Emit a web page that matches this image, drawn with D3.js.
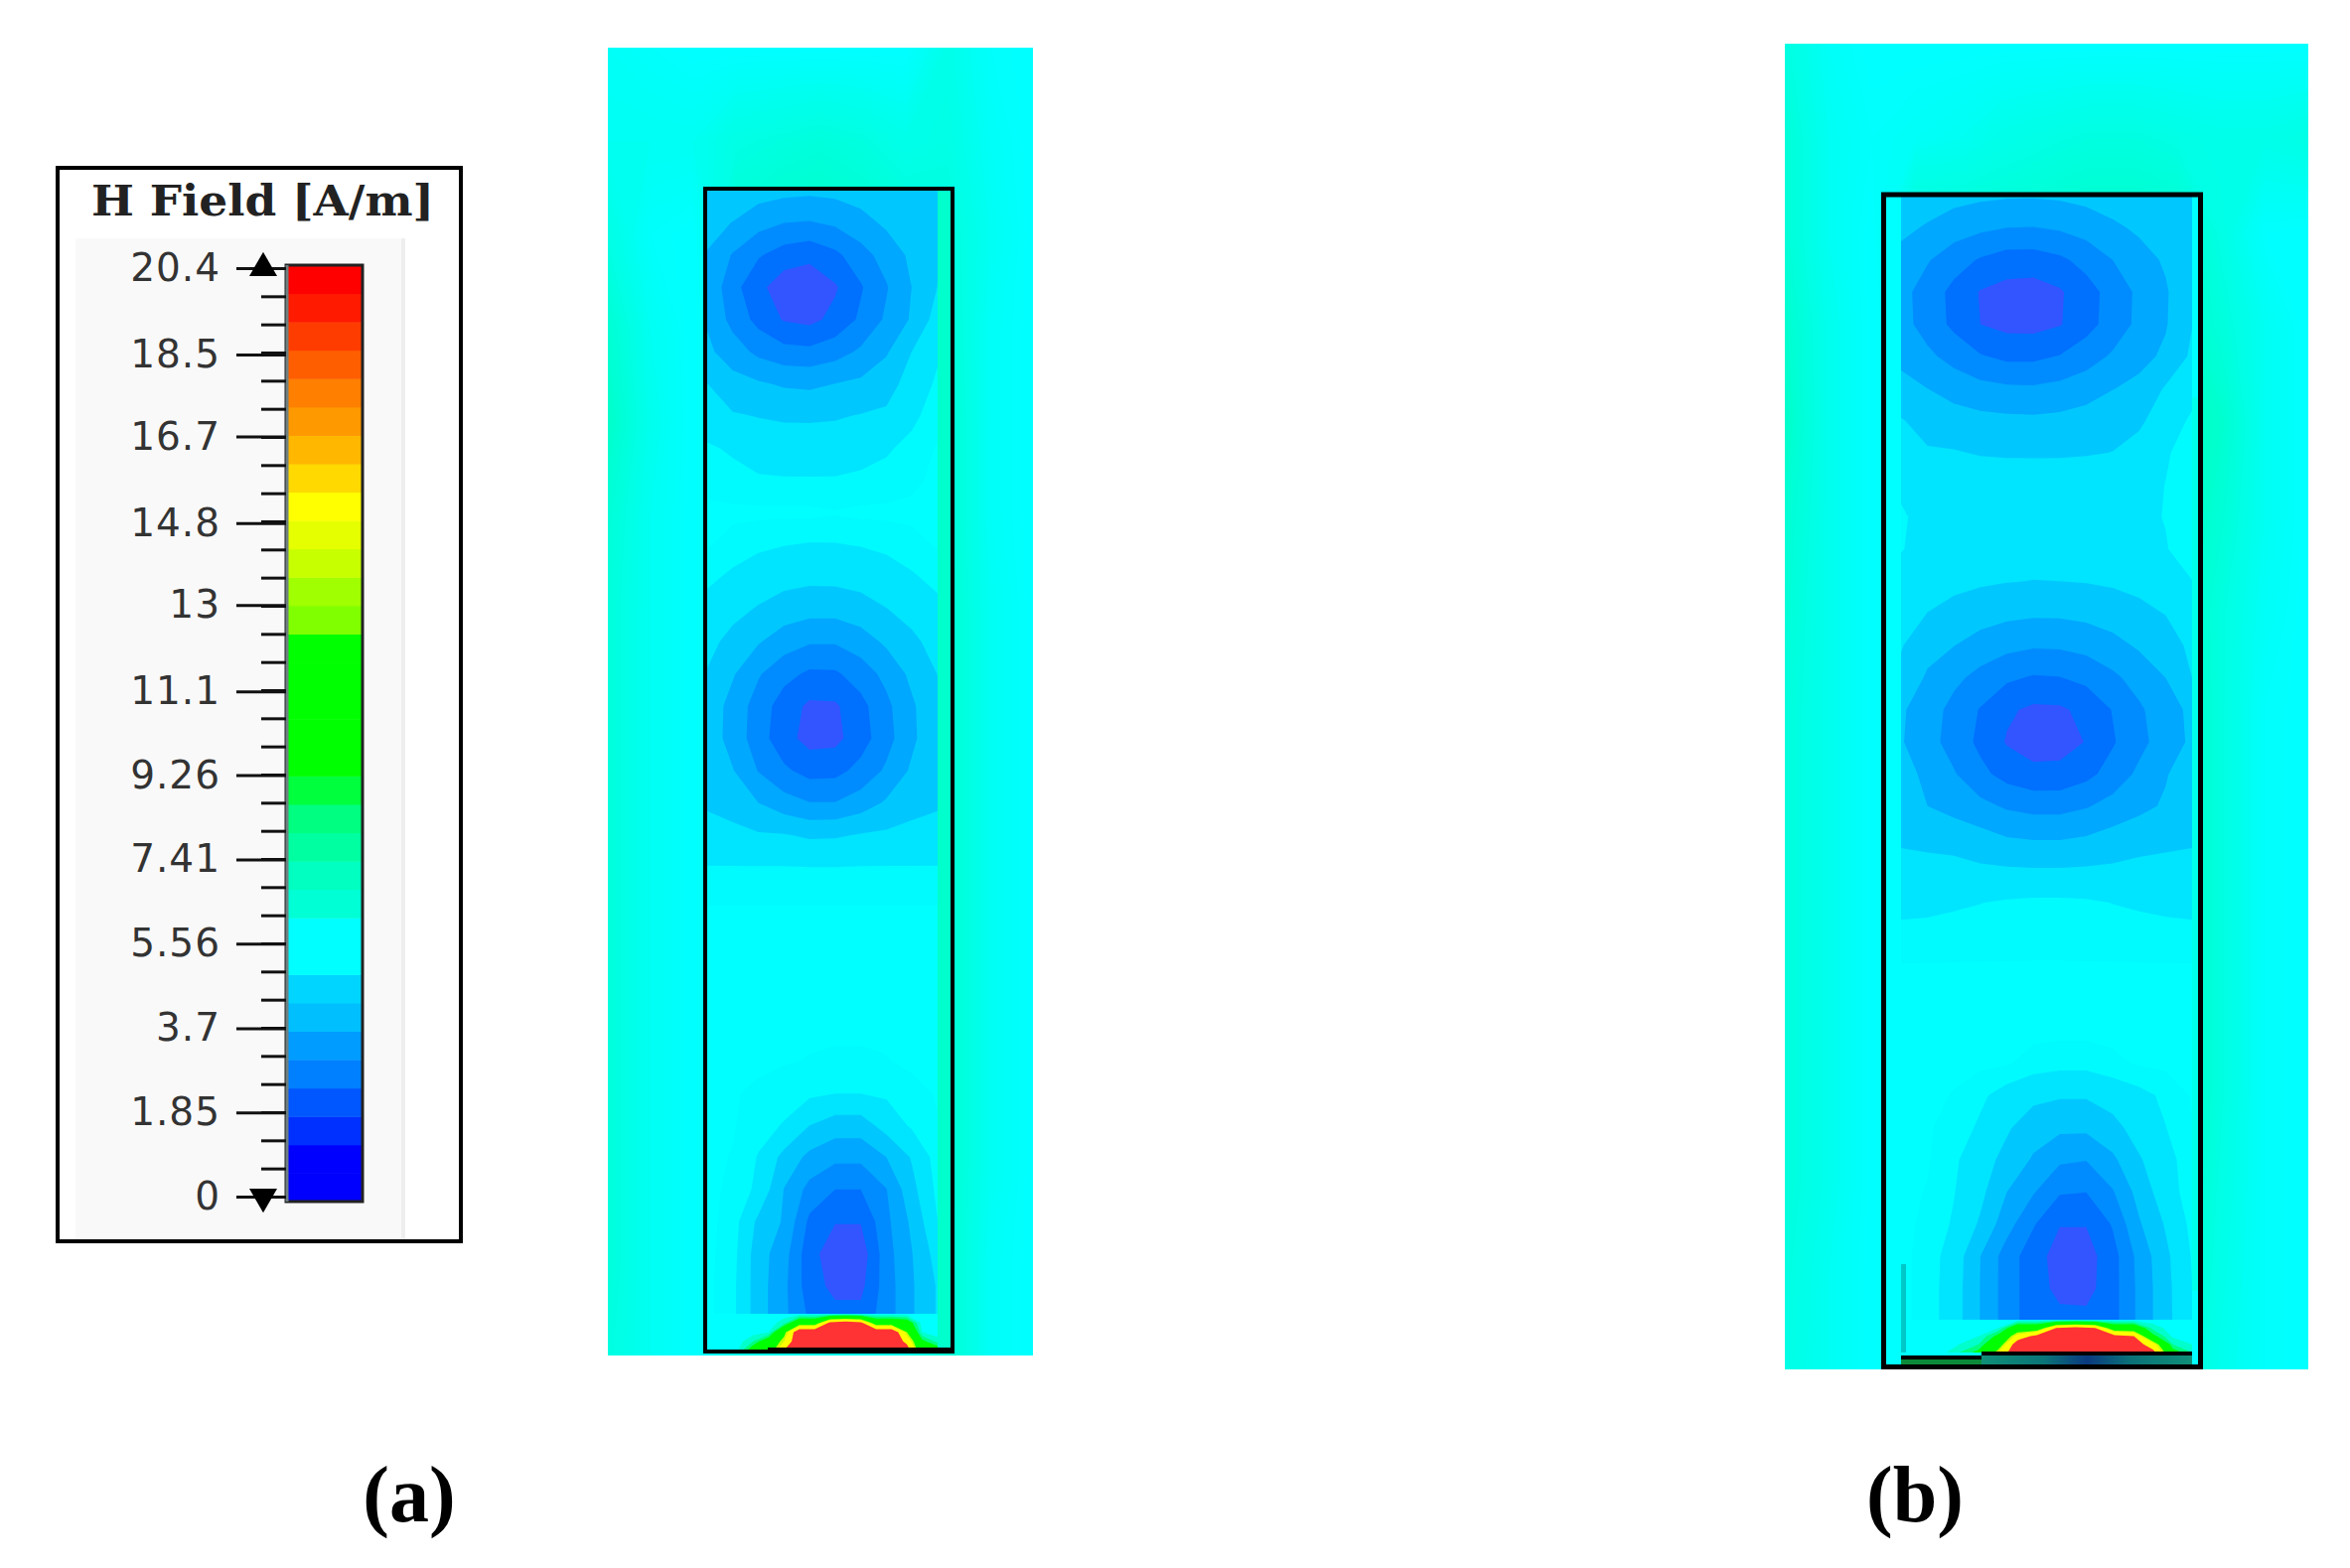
<!DOCTYPE html>
<meta charset="utf-8">
<head>
	<script src="https://d3js.org/d3.v7.min.js"></script>
	<style>
		html, body { margin: 0; background: #fff; }
		svg { display: block; }
		.legend .tick text { font-family: "DejaVu Sans"; font-size: 39px; letter-spacing: 1px; fill: #333; }
		.legend .tick line { stroke: #111; stroke-width: 3px; }
		.legend .domain { display: none; }
	</style>
</head>
<body>
<div id="chart"></div>
<script>
'use strict';

// legend, A/m
var tickValues = [0, 1.85, 3.7, 5.56, 7.41, 9.26, 11.1, 13, 14.8, 16.7, 18.5, 20.4];
var tickLabels = ["0", "1.85", "3.7", "5.56", "7.41", "9.26", "11.1", "13", "14.8", "16.7", "18.5", "20.4"];
var minorSteps = 33;
var legendColors = ["#0000ff", "#0000ff", "#0030ff", "#0056ff", "#0080ff", "#009cff", "#00bfff", "#00d5ff",
	"#00ffff", "#00ffff", "#00ffd5", "#00ffc0", "#00ffa0", "#00ff80", "#00ff3c", "#00ff00", "#00ff00", "#00ff00",
	"#00ff00", "#00ff00", "#80ff00", "#a0ff00", "#c8ff00", "#e5ff00", "#ffff00", "#ffd900", "#ffb700", "#ff9900",
	"#ff7f00", "#ff5e00", "#ff3c00", "#ff1a00", "#ff0000"];

// field bands inside the boxes
var bandLevels = [5.92, 5.56, 4.94, 4.32, 3.7, 3.09, 2.47];
var bandColors = ["#00fbff", "#00e5ff", "#00c8ff", "#00a8ff", "#008cff", "#0070ff", "#3355ff"];
// hot spot at the bottom of the boxes
var hotLevels = [6.5, 7.5, 8.5, 13, 14, 17];
var hotColors = ["#00ffcc", "#00ff80", "#00ff00", "#c8ff00", "#ffff00", "#ff3333"];

// H, rows top to bottom
var innerA = [
	[4.8, 4.75, 4.6, 4.5, 4.45, 4.5, 4.6, 4.7, 4.8, 4.85],
	[4.53, 4.3, 3.92, 3.7, 3.65, 3.8, 4.1, 4.43, 4.7, 4.87],
	[4.28, 3.65, 3.15, 2.8, 2.65, 2.95, 3.45, 3.96, 4.45, 4.9],
	[4.2, 3.3, 2.65, 2.1, 2.0, 2.4, 3.03, 3.65, 4.33, 4.95],
	[4.25, 3.5, 2.9, 2.42, 2.3, 2.65, 3.2, 3.8, 4.4, 5.2],
	[4.45, 4.0, 3.55, 3.3, 3.25, 3.45, 3.8, 4.25, 4.95, 5.48],
	[4.95, 4.55, 4.4, 4.25, 4.2, 4.33, 4.45, 4.7, 5.2, 5.65],
	[5.3, 5.0, 4.92, 4.85, 4.85, 4.88, 4.98, 5.05, 5.45, 5.8],
	[5.62, 5.5, 5.33, 5.3, 5.28, 5.3, 5.37, 5.5, 5.7, 5.95],
	[5.8, 5.7, 5.62, 5.6, 5.6, 5.6, 5.65, 5.72, 5.85, 6],
	[6, 6, 6, 6, 6, 5.95, 6, 6, 6, 6],
	[5.95, 5.77, 5.65, 5.57, 5.52, 5.53, 5.58, 5.67, 5.8, 5.95],
	[5.66, 5.47, 5.28, 5.16, 5.09, 5.1, 5.17, 5.3, 5.5, 5.7],
	[5.38, 5.12, 4.88, 4.64, 4.53, 4.53, 4.68, 4.92, 5.14, 5.42],
	[5.12, 4.75, 4.37, 4.0, 3.76, 3.76, 4.02, 4.43, 4.82, 5.15],
	[4.9, 4.38, 3.76, 3.28, 2.98, 3.0, 3.37, 3.88, 4.47, 4.95],
	[4.7, 4.1, 3.42, 2.8, 2.35, 2.38, 2.9, 3.55, 4.23, 4.82],
	[4.68, 4.08, 3.37, 2.7, 2.25, 2.3, 2.82, 3.47, 4.2, 4.8],
	[4.75, 4.35, 3.67, 3.2, 2.87, 2.9, 3.28, 3.8, 4.42, 4.8],
	[4.85, 4.7, 4.32, 3.95, 3.72, 3.72, 4.0, 4.4, 4.75, 4.85],
	[5.2, 5.1, 5.0, 4.98, 4.85, 4.87, 4.98, 5.05, 5.1, 5.2],
	[5.58, 5.58, 5.58, 5.58, 5.56, 5.56, 5.58, 5.58, 5.58, 5.58],
	[5.9, 5.9, 5.9, 5.9, 5.9, 5.9, 5.9, 5.9, 5.9, 5.9],
	[6, 6, 6, 6, 6, 6, 6, 6, 6, 6],
	[6, 6, 6, 6, 6, 6, 6, 6, 6, 6],
	[6, 6, 6, 6, 6, 6, 6, 6, 6, 6],
	[6, 6, 6, 6, 6, 6, 6, 6, 6, 6],
	[6, 6, 6, 5.95, 5.9, 5.85, 5.85, 5.9, 6, 6],
	[6, 5.95, 5.85, 5.75, 5.68, 5.58, 5.58, 5.65, 5.8, 5.95],
	[6, 5.95, 5.72, 5.53, 4.95, 4.65, 4.65, 5.2, 5.65, 5.9],
	[6, 5.9, 5.53, 4.75, 4.15, 3.85, 3.85, 4.32, 5.0, 5.8],
	[6, 5.85, 5.45, 4.3, 3.5, 3.09, 3.09, 3.68, 4.75, 5.7],
	[6, 5.8, 4.8, 4.25, 2.95, 2.5, 2.5, 3.55, 4.45, 5.55],
	[6, 5.75, 4.6, 3.95, 2.7, 2.1, 2.1, 3.45, 4.3, 5.2],
	[6, 5.7, 4.6, 3.85, 2.75, 2.3, 2.3, 3.4, 4.25, 5.0],
	[6, 5.7, 4.6, 3.85, 3.0, 2.7, 2.7, 3.4, 4.25, 5.0],
	[6, 5.7, 4.6, 3.85, 3.0, 2.7, 2.7, 3.4, 4.25, 5.0]
];
var sourceA = [
	[6, 6, 6, 6, 6, 6, 6, 6, 6, 6, 6, 6, 6, 6, 6, 6],
	[6, 6, 6, 6, 6, 7, 11, 11, 18, 19, 18, 11, 11, 10, 6, 6],
	[6, 6, 6, 6, 6.5, 12, 20, 20, 20, 20, 20, 20, 20, 13, 6.5, 6],
	[6, 6, 6, 7.5, 10, 14, 20, 20, 20, 20, 20, 20, 20, 16, 9, 7],
	[6, 6, 6.5, 10, 11, 17, 20, 20, 20, 20, 20, 20, 20, 19, 10, 10]
];
var outerA = [
	[6.2, 6.1, 6, 6, 6, 6, 6, 6, 6.5, 6.1, 6],
	[6.3, 6.3, 6.3, 6.6, 6.7, 6.8, 6.7, 6.5, 6.6, 6.2, 6],
	[6.6, 6.1, 6, 7, 7.2, 7.3, 7.1, 6.9, 6.8, 6.3, 6],
	[7, 6.3, 6, 6.5, 6.5, 6.5, 6.5, 6.5, 6.9, 6.2, 6],
	[7.2, 6.4, 6, 6.5, 6.5, 6.5, 6.5, 6.5, 7, 6.2, 6],
	[6.9, 6.3, 6, 6.5, 6.5, 6.5, 6.5, 6.5, 7, 6.2, 6],
	[6.8, 6.3, 6, 6.5, 6.5, 6.5, 6.5, 6.5, 7, 6.3, 6],
	[6.8, 6.3, 6, 6.5, 6.5, 6.5, 6.5, 6.5, 7, 6.3, 6],
	[6.8, 6.3, 6, 6.5, 6.5, 6.5, 6.5, 6.5, 7, 6.3, 6],
	[6.8, 6.3, 6, 6.5, 6.5, 6.5, 6.5, 6.5, 7, 6.3, 6],
	[6.8, 6.3, 6, 6.5, 6.5, 6.5, 6.5, 6.5, 7, 6.3, 6],
	[6.8, 6.3, 6, 6.5, 6.5, 6.5, 6.5, 6.5, 7, 6.3, 6],
	[6.8, 6.3, 6, 6.5, 6.5, 6.5, 6.5, 6.5, 7, 6.3, 6],
	[6.8, 6.3, 6, 6.5, 6.5, 6.5, 6.5, 6.5, 7, 6.2, 6],
	[6.7, 6.3, 6, 6.5, 6.5, 6.5, 6.5, 6.5, 7, 6.2, 6]
];

var innerB = [
	[4.81, 4.65, 4.52, 4.44, 4.39, 4.38, 4.42, 4.51, 4.65, 4.81, 4.88, 4.9],
	[4.48, 4.25, 4.0, 3.83, 3.7, 3.68, 3.78, 3.96, 4.2, 4.43, 4.65, 4.88],
	[4.1, 3.75, 3.35, 3.03, 2.8, 2.8, 2.97, 3.3, 3.7, 4.07, 4.4, 4.75],
	[3.9, 3.42, 2.92, 2.43, 2.25, 2.2, 2.4, 2.84, 3.33, 3.83, 4.25, 4.85],
	[3.92, 3.45, 2.95, 2.47, 2.28, 2.27, 2.43, 2.87, 3.35, 3.85, 4.27, 4.92],
	[4.18, 3.83, 3.48, 3.14, 2.95, 2.95, 3.12, 3.42, 3.78, 4.13, 4.43, 5.05],
	[4.5, 4.32, 4.07, 3.9, 3.8, 3.78, 3.88, 4.05, 4.3, 4.48, 5.0, 5.35],
	[4.98, 4.72, 4.6, 4.5, 4.46, 4.44, 4.48, 4.58, 4.7, 4.84, 5.25, 5.65],
	[5.1, 5.0, 4.98, 4.9, 4.88, 4.88, 4.88, 4.9, 4.95, 5.15, 5.5, 5.8],
	[5.5, 5.4, 5.35, 5.3, 5.25, 5.22, 5.25, 5.28, 5.3, 5.35, 5.57, 5.85],
	[5.6, 5.45, 5.42, 5.4, 5.4, 5.38, 5.38, 5.4, 5.42, 5.45, 5.58, 5.9],
	[5.58, 5.42, 5.35, 5.28, 5.2, 5.15, 5.15, 5.2, 5.3, 5.4, 5.53, 5.8],
	[5.4, 5.2, 5.1, 5.02, 4.96, 4.93, 4.94, 4.97, 5.03, 5.12, 5.45, 5.55],
	[5.2, 4.93, 4.74, 4.58, 4.47, 4.41, 4.42, 4.49, 4.6, 4.77, 4.96, 5.45],
	[4.98, 4.55, 4.33, 4.07, 3.87, 3.77, 3.79, 3.9, 4.13, 4.4, 4.6, 5.1],
	[4.8, 4.23, 3.85, 3.5, 3.2, 3.03, 3.07, 3.25, 3.57, 3.95, 4.32, 4.94],
	[4.4, 4.0, 3.5, 3.05, 2.57, 2.35, 2.37, 2.65, 3.12, 3.6, 4.07, 4.45],
	[4.37, 3.93, 3.45, 2.95, 2.42, 2.17, 2.2, 2.5, 3.03, 3.52, 4.0, 4.43],
	[4.55, 4.18, 3.75, 3.25, 2.87, 2.65, 2.67, 2.92, 3.33, 3.83, 4.27, 4.7],
	[4.6, 4.32, 4.08, 3.87, 3.62, 3.5, 3.5, 3.65, 3.92, 4.15, 4.4, 4.65],
	[4.85, 4.8, 4.75, 4.55, 4.35, 4.28, 4.28, 4.37, 4.55, 4.72, 4.8, 4.85],
	[5.15, 5.12, 5.1, 5.05, 5.02, 5.0, 5.0, 5.02, 5.05, 5.1, 5.12, 5.15],
	[5.42, 5.44, 5.5, 5.55, 5.62, 5.66, 5.66, 5.63, 5.55, 5.5, 5.45, 5.42],
	[5.68, 5.7, 5.72, 5.75, 5.78, 5.8, 5.8, 5.78, 5.75, 5.72, 5.7, 5.68],
	[5.95, 5.95, 5.95, 5.95, 5.95, 5.95, 5.95, 5.95, 5.95, 5.95, 5.95, 5.95],
	[6, 6, 6, 6, 6, 6, 6, 6, 6, 6, 6, 6],
	[6, 6, 6, 6, 6, 6, 6, 6, 6, 6, 6, 6],
	[6, 6, 6, 6, 5.95, 5.8, 5.72, 5.72, 5.85, 5.95, 6, 6],
	[6, 6, 5.9, 5.65, 5.35, 5.1, 5.0, 5.0, 5.2, 5.42, 5.65, 5.95],
	[6, 5.95, 5.8, 5.48, 5.02, 4.6, 4.45, 4.45, 4.75, 5.2, 5.55, 5.9],
	[6, 5.95, 5.65, 5.2, 4.75, 4.25, 3.8, 3.72, 4.2, 4.88, 5.35, 5.85],
	[6, 5.9, 5.58, 5.1, 4.32, 3.75, 3.15, 3.1, 3.65, 4.55, 5.3, 5.8],
	[6, 5.85, 5.5, 4.85, 3.95, 3.15, 2.5, 2.5, 3.15, 4.25, 5.0, 5.7],
	[6, 5.8, 5.3, 4.32, 3.4, 2.75, 2.2, 2.2, 2.85, 3.9, 4.8, 5.6],
	[6, 5.8, 5.25, 4.3, 3.4, 2.75, 2.3, 2.25, 2.85, 3.85, 4.75, 5.55],
	[6, 5.8, 5.25, 4.3, 3.4, 2.75, 2.65, 2.65, 2.85, 3.85, 4.75, 5.5],
	[6, 5.8, 5.25, 4.3, 3.4, 2.75, 2.65, 2.65, 2.85, 3.85, 4.75, 5.5]
];
var sourceB = [
	[6, 6, 6, 6, 6, 6, 6, 6, 6, 6, 6, 6, 6, 6, 6, 6],
	[6, 6, 6, 6, 6, 6.5, 10.5, 10.5, 17, 18, 17, 10.5, 10.5, 7, 6, 6],
	[6, 6, 6, 6, 6.5, 9, 15, 18, 20, 20, 20, 18, 17, 9, 6.3, 6],
	[6, 6, 6, 6.5, 7.5, 11, 19, 20, 20, 20, 20, 20, 19, 15, 7.5, 6.5],
	[6, 6, 6, 7.5, 9, 14, 20, 20, 20, 20, 20, 20, 20, 18, 9.5, 7.5]
];
var outerB = [
	[6.7, 6.2, 6, 6, 6, 6, 6, 6, 6, 6, 6, 6, 6],
	[6.9, 6.3, 6.1, 6.2, 6.3, 6.5, 6.6, 6.7, 6.7, 6.6, 6.5, 6.5, 6.6],
	[6.9, 6.3, 6, 7, 7, 7, 7.1, 7.2, 7.2, 7.1, 6.6, 6.05, 6],
	[7.1, 6.4, 6, 6.5, 6.5, 6.5, 6.5, 6.5, 6.5, 7.2, 6.8, 6.3, 6],
	[7.2, 6.4, 6, 6.5, 6.5, 6.5, 6.5, 6.5, 6.5, 7.4, 7.1, 6.3, 6],
	[7, 6.4, 6, 6.5, 6.5, 6.5, 6.5, 6.5, 6.5, 7.4, 6.9, 6.3, 6],
	[6.9, 6.4, 6, 6.5, 6.5, 6.5, 6.5, 6.5, 6.5, 7.3, 6.7, 6.2, 6],
	[6.8, 6.4, 6, 6.5, 6.5, 6.5, 6.5, 6.5, 6.5, 7.4, 6.7, 6.1, 6],
	[6.8, 6.4, 6, 6.5, 6.5, 6.5, 6.5, 6.5, 6.5, 7.4, 6.7, 6.1, 6],
	[6.8, 6.4, 6, 6.5, 6.5, 6.5, 6.5, 6.5, 6.5, 7.4, 6.7, 6.1, 6],
	[6.8, 6.4, 6, 6.5, 6.5, 6.5, 6.5, 6.5, 6.5, 7.4, 6.7, 6.1, 6],
	[6.8, 6.4, 6, 6.5, 6.5, 6.5, 6.5, 6.5, 6.5, 7.4, 6.7, 6.1, 6],
	[6.8, 6.4, 6, 6.5, 6.5, 6.5, 6.5, 6.5, 6.5, 7.3, 6.6, 6.1, 6],
	[6.7, 6.3, 6, 6.5, 6.5, 6.5, 6.5, 6.5, 6.5, 7.2, 6.5, 6.1, 6],
	[6.6, 6.3, 6, 6.5, 6.5, 6.5, 6.5, 6.5, 6.5, 7, 6.4, 6.1, 6]
];

var svg = d3.select("#chart").append("svg")
	.attr("width", 2366)
	.attr("height", 1579);
var defs = svg.append("defs");
var clipCount = 0;

// paint one grid as filled contours, grid corners sit on the box corners
function drawBands(grid, box, levels, colors, below) {
	var rows = grid.length, cols = grid[0].length;
	var sx = d3.scaleLinear().domain([0.5, cols - 0.5]).range([box.x0, box.x1]);
	var sy = d3.scaleLinear().domain([0.5, rows - 0.5]).range([box.y0, box.y1]);
	var path = d3.geoPath(d3.geoTransform({
		point: function (x, y) { this.stream.point(sx(x), sy(y)); }
	}));
	var sign = below ? -1 : 1;
	var flat = d3.merge(grid).map(function (v) { return sign * v; });
	var contours = d3.contours().size([cols, rows]);

	var id = "clip" + (clipCount++);
	defs.append("clipPath").attr("id", id).append("rect")
		.attr("x", box.x0).attr("y", box.y0)
		.attr("width", box.x1 - box.x0).attr("height", box.y1 - box.y0);

	svg.append("g").attr("clip-path", "url(#" + id + ")")
		.selectAll("path")
		.data(levels)
		.join("path")
		.attr("d", function (t) { return path(contours.contour(flat, sign * t)); })
		.attr("fill", function (t, i) { return colors[i]; });
}

function rect(x0, y0, x1, y1, fill) {
	return svg.append("rect")
		.attr("x", x0).attr("y", y0)
		.attr("width", x1 - x0).attr("height", y1 - y0)
		.attr("fill", fill);
}

// outer field is almost continuous so just use many thin levels
var outerLevels = d3.range(6.05, 7.6, 0.05);
var outerColor = d3.scaleLinear().domain([6, 7.5]).range(["#00ffff", "#00ffbb"]);
var outerColors = outerLevels.map(function (t) { return outerColor(t); });

function drawPanel(p) {
	rect(p.outer.x0, p.outer.y0, p.outer.x1, p.outer.y1, "#00ffff");
	drawBands(p.outerGrid, p.outer, outerLevels, outerColors, false);
	rect(p.well.x0, p.well.y0, p.well.x1, p.well.y1, "#00ffff");
	drawBands(p.innerGrid, p.inner, bandLevels, bandColors, true);
	rect(p.source.x0, p.source.y0, p.source.x1, p.source.y1, "#00ffff");
	drawBands(p.sourceGrid, p.source, hotLevels, hotColors, false);
}

// (a)
drawPanel({
	outer: { x0: 612, x1: 1040, y0: 48, y1: 1365 },
	well: { x0: 710, x1: 960, y0: 190, y1: 1361 },
	inner: { x0: 712, x1: 944, y0: 192, y1: 1360 },
	source: { x0: 712, x1: 944, y0: 1323, y1: 1360 },
	outerGrid: outerA, innerGrid: innerA, sourceGrid: sourceA
});
rect(944, 192, 958, 1358, "#00ffcc");
rect(773, 1357, 961, 1363, "#000");
svg.append("rect")
	.attr("x", 710).attr("y", 190).attr("width", 249).attr("height", 1171)
	.attr("fill", "none").attr("stroke", "#000").attr("stroke-width", 4);

// (b)
drawPanel({
	outer: { x0: 1797, x1: 2324, y0: 44, y1: 1379 },
	well: { x0: 1896, x1: 2216, y0: 196, y1: 1377 },
	inner: { x0: 1914, x1: 2207, y0: 197, y1: 1362 },
	source: { x0: 1914, x1: 2207, y0: 1329, y1: 1362 },
	outerGrid: outerB, innerGrid: innerB, sourceGrid: sourceB
});
rect(2207, 400, 2213, 1300, "#00ffea");
rect(1914, 1273, 1919, 1362, "#00c8c8");

// teal conductor strip along the bottom of (b)
var strip = defs.append("linearGradient").attr("id", "stripFill");
[[0, "#0f8f78"], [0.3, "#0a7478"], [0.5, "#0a3a80"], [0.7, "#0a7078"], [1, "#0f8f78"]].forEach(function (s) {
	strip.append("stop").attr("offset", s[0]).attr("stop-color", s[1]);
});
rect(1995, 1365, 2207, 1376, "url(#stripFill)");
rect(1914, 1366, 1995, 1376, "#0b8a3a");
rect(1914, 1365, 1995, 1369, "#000");
rect(1995, 1361, 2207, 1365, "#000");
svg.append("rect")
	.attr("x", 1896.5).attr("y", 196).attr("width", 319).attr("height", 1180.5)
	.attr("fill", "none").attr("stroke", "#000").attr("stroke-width", 5);

// panel labels
[["(a)", 412], ["(b)", 1928]].forEach(function (d) {
	svg.append("text")
		.attr("x", d[1]).attr("y", 1532)
		.attr("text-anchor", "middle")
		.attr("font-family", "Liberation Serif")
		.attr("font-weight", "bold")
		.attr("font-size", 80)
		.text(d[0]);
});

// legend
var legend = svg.append("g").attr("class", "legend");
legend.append("rect")
	.attr("x", 58).attr("y", 169).attr("width", 406).attr("height", 1081)
	.attr("fill", "#fff").attr("stroke", "#000").attr("stroke-width", 4);
legend.append("rect")
	.attr("x", 76).attr("y", 240).attr("width", 332).attr("height", 1008)
	.attr("fill", "#f9f9f9");
legend.append("rect")
	.attr("x", 404).attr("y", 240).attr("width", 4).attr("height", 1008)
	.attr("fill", "#eeeeee");
legend.append("text")
	.attr("x", 92).attr("y", 217)
	.attr("font-family", "DejaVu Serif")
	.attr("font-weight", "bold")
	.attr("font-size", 43)
	.attr("textLength", 345)
	.attr("lengthAdjust", "spacingAndGlyphs")
	.attr("fill", "#222")
	.text("H Field [A/m]");

var vMax = tickValues[tickValues.length - 1];
var legendY = d3.scaleLinear().domain([0, vMax]).range([1205, 270]);
var barY = d3.scaleLinear().domain([0, vMax]).range([1210, 267]);
var barX = 288, barW = 77;
var step = vMax / minorSteps;

legend.append("g").selectAll("rect")
	.data(legendColors)
	.join("rect")
	.attr("x", barX)
	.attr("width", barW)
	.attr("y", function (c, i) { return barY((i + 1) * step); })
	.attr("height", function (c, i) { return barY(i * step) - barY((i + 1) * step) + 0.5; })
	.attr("fill", function (c) { return c; });
legend.append("rect")
	.attr("x", barX).attr("y", barY(vMax)).attr("width", barW).attr("height", barY(0) - barY(vMax))
	.attr("fill", "none").attr("stroke", "#222").attr("stroke-width", 3);
legend.append("line")
	.attr("x1", barX + 1).attr("x2", barX + 1).attr("y1", barY(vMax)).attr("y2", barY(0))
	.attr("stroke", "#6f8080").attr("stroke-width", 3);

legend.append("g")
	.attr("transform", "translate(" + barX + ",0)")
	.call(d3.axisLeft(legendY)
		.tickValues(d3.range(0, minorSteps + 1).map(function (i) { return i * step; }))
		.tickSize(25)
		.tickFormat(""));
legend.append("g")
	.attr("transform", "translate(" + barX + ",0)")
	.call(d3.axisLeft(legendY)
		.tickValues(tickValues)
		.tickSize(50)
		.tickPadding(16)
		.tickFormat(function (d, i) { return tickLabels[i]; }));

// end arrows on the scale
legend.append("path")
	.attr("d", d3.symbol(d3.symbolTriangle, 340))
	.attr("transform", "translate(265," + legendY(vMax) + ")")
	.attr("fill", "#000");
legend.append("path")
	.attr("d", d3.symbol(d3.symbolTriangle, 340))
	.attr("transform", "translate(265," + legendY(0) + ") rotate(180)")
	.attr("fill", "#000");
</script>
</body>
